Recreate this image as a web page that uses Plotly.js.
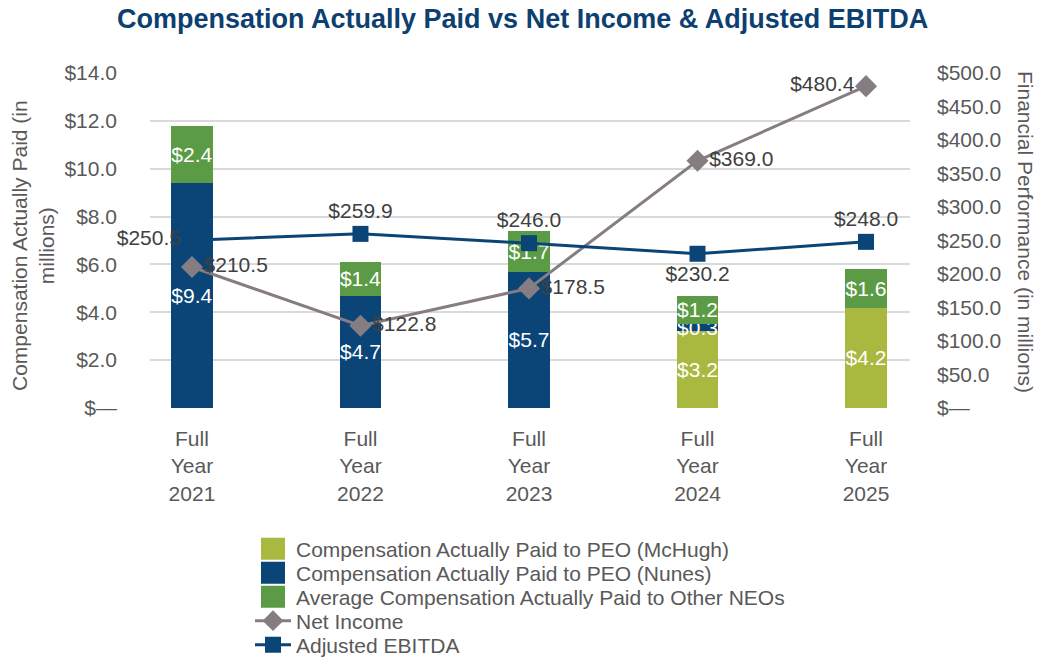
<!DOCTYPE html>
<html><head><meta charset="utf-8">
<script src="https://cdn.plot.ly/plotly-3.0.1.min.js"></script>
<style>html,body{margin:0;padding:0;background:#fff}#chart{width:1039px;height:657px}</style>
</head><body><div id="chart"></div>
<script>
const categories = ['Full Year 2021','Full Year 2022','Full Year 2023','Full Year 2024','Full Year 2025'];
const peoMcHugh = [null, null, null, 3.2, 4.2];
const peoNunes = [9.4, 4.7, 5.7, 0.3, null];
const otherNEOs = [2.4, 1.4, 1.7, 1.2, 1.6];
const netIncome = [210.5, 122.8, 178.5, 369.0, 480.4];
const adjEBITDA = [250.5, 259.9, 246.0, 230.2, 248.0];
const leftTicks = [0, 2, 4, 6, 8, 10, 12, 14];
const rightTicks = [0, 50, 100, 150, 200, 250, 300, 350, 400, 450, 500];

const fontFam = '"Liberation Sans", Arial, sans-serif';
const tickColor = '#595959';
const FS = 21;
const fmt = v => v === 0 ? '$\u2014' : '$' + v.toFixed(1);
const barW = 0.245;

// plot area in pixels: x 150..910, y 73..408
const py = p => (408 - p) / 335;
const px = p => (p - 150) / 760;

const barText = {texttemplate: '$%{y:.1f}', textposition: 'inside', insidetextanchor: 'middle', textangle: 0,
  constraintext: 'none', textfont: {family: fontFam, size: FS, color: '#ffffff'}, width: barW, hoverinfo: 'skip'};

const traces = [
  Object.assign({type: 'bar', name: 'Compensation Actually Paid to PEO (McHugh)', x: categories, y: peoMcHugh,
    marker: {color: '#a9b940'}, legend: 'legend'}, barText),
  Object.assign({type: 'bar', name: 'Compensation Actually Paid to PEO (Nunes)', x: categories, y: peoNunes,
    marker: {color: '#0b4577'}, legend: 'legend2'}, barText),
  Object.assign({type: 'bar', name: 'Average Compensation Actually Paid to Other NEOs', x: categories, y: otherNEOs,
    marker: {color: '#5b9b45'}, legend: 'legend3'}, barText),
  {type: 'scatter', mode: 'lines+markers+text', name: 'Net Income', x: categories, y: netIncome, yaxis: 'y2',
    legend: 'legend4',
    line: {color: '#867d83', width: 3}, marker: {symbol: 'diamond', size: 17, color: '#867d83'},
    texttemplate: '$%{y:.1f}', textposition: ['middle right','middle right','middle right','middle right','middle left'],
    textfont: {family: fontFam, size: FS, color: '#404040'}, cliponaxis: false},
  {type: 'scatter', mode: 'lines+markers+text', name: 'Adjusted EBITDA', x: categories, y: adjEBITDA, yaxis: 'y2',
    legend: 'legend5',
    line: {color: '#0b4577', width: 3}, marker: {symbol: 'square', size: 16, color: '#0b4577'},
    texttemplate: '$%{y:.1f}', textposition: ['middle left','top center','top center','bottom center','top center'],
    textfont: {family: fontFam, size: FS, color: '#404040'}, cliponaxis: false}
];

const legendBase = {orientation: 'v', x: px(250), xanchor: 'left', yanchor: 'middle',
  font: {family: fontFam, size: FS, color: tickColor}, bgcolor: 'rgba(0,0,0,0)', borderwidth: 0, itemwidth: 36};
const rowY = [549, 573, 597, 621, 645];

const layout = {
  width: 1039, height: 657,
  margin: {l: 150, r: 129, t: 73, b: 249, autoexpand: false},
  paper_bgcolor: '#ffffff', plot_bgcolor: '#ffffff',
  barmode: 'stack',
  font: {family: fontFam, size: FS, color: tickColor},
  title: {text: '<b>Compensation Actually Paid vs Net Income & Adjusted EBITDA</b>',
    font: {family: fontFam, size: 27, color: '#0d3f70'}, x: 0.503, xanchor: 'center', y: 0.972, yanchor: 'middle'},
  xaxis: {type: 'category', range: [-0.249, 4.261], tickvals: categories,
    ticktext: categories.map(c => c.replace(/ /g, '<br>')), showgrid: false, zeroline: false, showline: false,
    ticks: '', tickfont: {family: fontFam, size: FS, color: tickColor}, ticklabelstandoff: 16},
  yaxis: {range: [0, 14], tickvals: leftTicks, ticktext: leftTicks.map(fmt), showgrid: true,
    gridcolor: '#d9d9d9', gridwidth: 2, zeroline: false, showline: false, ticks: '',
    tickfont: {family: fontFam, size: FS, color: tickColor}, ticklabelstandoff: 32},
  yaxis2: {range: [0, 500], overlaying: 'y', side: 'right', tickvals: rightTicks, ticktext: rightTicks.map(fmt),
    showgrid: false, zeroline: false, showline: false, ticks: '',
    tickfont: {family: fontFam, size: FS, color: tickColor}, ticklabelstandoff: 26},
  showlegend: true,
  legend: Object.assign({}, legendBase, {y: py(rowY[0])}),
  legend2: Object.assign({}, legendBase, {y: py(rowY[1])}),
  legend3: Object.assign({}, legendBase, {y: py(rowY[2])}),
  legend4: Object.assign({}, legendBase, {y: py(rowY[3])}),
  legend5: Object.assign({}, legendBase, {y: py(rowY[4])}),
  annotations: [
    {text: 'Compensation Actually Paid (in<br>millions)', xref: 'paper', yref: 'paper',
      x: px(33), y: py(246), xanchor: 'center', yanchor: 'middle', textangle: -90,
      showarrow: false, font: {family: fontFam, size: FS, color: tickColor}},
    {text: 'Financial Performance (in millions)', xref: 'paper', yref: 'paper',
      x: px(1026), y: py(232), xanchor: 'center', yanchor: 'middle', textangle: 90,
      showarrow: false, font: {family: fontFam, size: FS, color: tickColor}}
  ]
};

Plotly.newPlot('chart', traces, layout, {staticPlot: true}).then(gd => {
  gd.querySelectorAll('.legendpoints path').forEach(p => {
    const d = p.getAttribute('d') || '';
    if (d.indexOf('M6,6H-6V-6H6Z') === 0) p.setAttribute('d', 'M12,11H-12V-11H12Z');
  });
});
</script></body></html>
